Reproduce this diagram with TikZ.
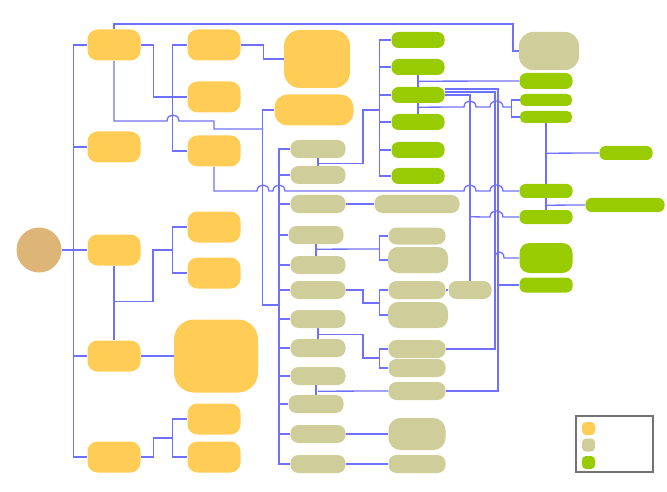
\documentclass[tikz,border=0pt]{standalone}
\usetikzlibrary{backgrounds}
\definecolor{giallo}{HTML}{FFCC55}
\definecolor{oliva}{HTML}{CFCE9B}
\definecolor{verde}{HTML}{99CC00}
\definecolor{radice}{HTML}{DDB577}
\definecolor{linea}{HTML}{7070FF}
\begin{document}
\begin{tikzpicture}[
    x=1pt, y=-1pt,
    every node/.style={inner sep=0pt, draw=none},
    gial/.style={fill=giallo, minimum width=53pt, minimum height=31pt, rounded corners=10pt},
    oliv/.style={fill=oliva, minimum width=55pt, minimum height=18pt, rounded corners=8pt},
    verd/.style={fill=verde, minimum width=53pt, minimum height=16pt, rounded corners=7pt},
    link/.style={draw=linea, line width=1.3pt}
]
\useasboundingbox (0,0) rectangle (667,492);
\coordinate (rail) at (279,0);

% Radice
\node[circle, fill=radice, minimum size=45pt] (rad) at (39,250) {};

% Primo livello
\node[gial] (a1) at (114,45) {};
\node[gial] (a2) at (114,147) {};
\node[gial] (a3) at (114,250) {};
\node[gial] (a4) at (114,356) {};
\node[gial] (a5) at (114,457) {};

% Secondo livello
\node[gial] (b1) at (214,45) {};
\node[gial] (b2) at (214,97) {};
\node[gial] (b3) at (214,151) {};
\node[gial] (b4) at (214,227) {};
\node[gial] (b5) at (214,273) {};
\node[gial, minimum width=84pt, minimum height=73pt, rounded corners=20pt] (b6) at (216,356) {};
\node[gial] (b7) at (214,419) {};
\node[gial] (b8) at (214,457) {};
\node[gial, minimum width=66pt, minimum height=58pt, rounded corners=16pt] (c1) at (317,59) {};
\node[gial, minimum width=79pt, rounded corners=13pt] (c2) at (314,110) {};

% Colonna oliva
\node[oliv] (d1) at (318,149) {};
\node[oliv] (d2) at (318,175) {};
\node[oliv] (d3) at (318,204) {};
\node[oliv] (d4) at (316,235) {};
\node[oliv] (d5) at (318,265) {};
\node[oliv] (d6) at (318,290) {};
\node[oliv] (d7) at (318,319) {};
\node[oliv] (d8) at (318,348) {};
\node[oliv] (d9) at (318,376) {};
\node[oliv] (d10) at (316,404) {};
\node[oliv] (d11) at (318,434) {};
\node[oliv] (d12) at (318,464) {};

% Colonna verde
\node[verd] (e1) at (418,40) {};
\node[verd] (e2) at (418,67) {};
\node[verd] (e3) at (418,95) {};
\node[verd] (e4) at (418,122) {};
\node[verd] (e5) at (418,150) {};
\node[verd] (e6) at (418,176) {};

\node[oliv, minimum width=85pt] (i) at (417,204) {};
\node[oliv, minimum width=57pt, minimum height=17pt] (j1) at (417,236) {};
\node[oliv, minimum width=60pt, minimum height=26pt, rounded corners=10pt] (j2) at (418,260) {};
\node[oliv, minimum width=57pt] (j3) at (417,290) {};
\node[oliv, minimum width=60pt, minimum height=26pt, rounded corners=10pt] (j4) at (418,315) {};
\node[oliv, minimum width=57pt] (j5) at (417,349) {};
\node[oliv, minimum width=57pt] (j6) at (417,368) {};
\node[oliv, minimum width=57pt] (j7) at (417,391) {};
\node[oliv, minimum width=57pt, minimum height=32pt, rounded corners=12pt] (j8) at (417,434) {};
\node[oliv, minimum width=57pt] (j9) at (417,464) {};
\node[oliv, minimum width=43pt] (g) at (470,290) {};

% Destra
\node[oliv, minimum width=60pt, minimum height=38pt, rounded corners=14pt] (f1) at (549,51) {};
\node[verd] (f2) at (546,81) {};
\node[verd, minimum width=52pt, minimum height=12pt, rounded corners=5pt] (f3) at (546,100) {};
\node[verd, minimum width=52pt, minimum height=12pt, rounded corners=5pt] (f4) at (546,117) {};
\node[verd, minimum height=14pt, rounded corners=6pt] (f5) at (626,153) {};
\node[verd, minimum height=14pt, rounded corners=6pt] (f6) at (546,191) {};
\node[verd, minimum width=79pt, minimum height=14pt, rounded corners=6pt] (f7) at (625,205) {};
\node[verd, minimum height=14pt, rounded corners=6pt] (f8) at (546,217) {};
\node[verd, minimum height=30pt, rounded corners=10pt] (f9) at (546,258) {};
\node[verd, minimum height=15pt, rounded corners=6pt] (f10) at (546,285) {};

% Legenda
\node[draw=black!55, line width=1.3pt, fill=white, minimum width=77pt, minimum height=56pt] (leg) at (614.5,444) {};
\node[fill=giallo, minimum size=13pt, rounded corners=4pt] (lg1) at (588.5,428.5) {};
\node[fill=oliva, minimum size=13pt, rounded corners=4pt] (lg2) at (588.5,445) {};
\node[fill=verde, minimum size=13pt, rounded corners=4pt] (lg3) at (588.5,462.5) {};

% Collegamenti
\begin{pgfonlayer}{background}
\begin{scope}[every path/.style=link]
\draw (rad.east) -- (a3.west);
\draw (a1.west) -- ++(-13.5,0) |- (a5.west);
\draw (a2.west) -- ++(-13.5,0);
\draw (a4.west) -- ++(-13.5,0);

\draw (a1.east) -- ++(12.5,0) |- (b2.west);
\draw (b1.west) -- ++(-15,0) |- (b3.west);
\draw (b1.east) -- ++(22.5,0) |- (c1.west);
\draw (a1.north) |- (513,24) |- (f1.west);
\draw (a1.south) |- (167,121) .. controls +(0,-8) and +(0,-8) .. (179,121) -| (214,129) -- (263,129);
\draw (c2.west) -- ++(-11.5,0) |- (279,305);
\draw (b3.south) |- (257,191) .. controls +(0,-8) and +(0,-8) .. (269,191)
    -- (273,191) .. controls +(0,-8) and +(0,-8) .. (285,191)
    -- (464,191) .. controls +(0,-8) and +(0,-8) .. (476,191)
    -- (490,191) .. controls +(0,-8) and +(0,-8) .. (503,191) -- (f6.west);

\draw (a3.south) -- (a4.north);
\draw (a3.south) ++(0,36) -| (153,250) -- (173,250);
\draw (b4.west) -- ++(-15,0) |- (b5.west);
\draw (a4.east) -- (b6.west);
\draw (a5.east) -- ++(12.5,0) |- (173,438);
\draw (b7.west) -- ++(-15,0) |- (b8.west);

\draw (d1.west) -- (d1.west -| rail) -- (d12.west -| rail) -- (d12.west);
\foreach \n in {2,...,11} \draw (d\n.west) -- (d\n.west -| rail);

\draw (d1.south) -- (d2.north);
\draw (d1.south) ++(0,5) -| (363,110) -- (380,110);
\draw (e1.west) -- ++(-11.5,0) |- (e6.west);
\foreach \n in {2,...,5} \draw (e\n.west) -- ++(-11.5,0);

\draw (e2.south) -- (e4.north);
\draw (e2.south) ++(0,6) -- (f2.west);
\draw (e3.south) ++(0,4) -- (464,107) .. controls +(0,-8) and +(0,-8) .. (476,107)
    -- (490,107) .. controls +(0,-8) and +(0,-8) .. (503,107) -- (512,107);
\draw (f3.west) -- ++(-8,0) |- (f4.west);

\draw (e3.east) ++(0,-6) -| (498,391) -- (j7.east);
\draw (e3.east) ++(0,-3) -| (495,349) -- (j5.east);
\draw (e3.east) -| (g.north);
\draw (g.north) ++(0,-64) -- (490,217) .. controls +(0,-8) and +(0,-8) .. (503,217) -- (f8.west);
\draw (f9.west) -- (504,258) .. controls +(0,-8) and +(0,-8) .. (495,258);
\draw (f10.west) -- (498,285);

\draw (d3.east) -- (i.west);
\draw (d4.south) -- (d4.south |- d5.north);
\draw (d4.south) ++(0,5) -- (379.5,249);
\draw (j1.west) -- ++(-9,0) |- (j2.west);
\draw (d6.east) -| (363,303) -- (379.5,303);
\draw (j3.west) -- ++(-9,0) |- (j4.west);
\draw (j3.east) -- (g.west);
\draw (d7.south) -- (d8.north);
\draw (d7.south) ++(0,6) -| (363,358) -- (379.5,358);
\draw (j5.west) -- ++(-9,0) |- (j6.west);
\draw (d10.north) -- (d10.north |- d9.south);
\draw (d9.south) ++(0,6) -- (j7.west);
\draw (d11.east) -- (j8.west);
\draw (d12.east) -- (j9.west);

\draw (f4.south) -- (f8.north);
\draw (f4.south) ++(0,30) -- (f5.west);
\draw (f4.south) ++(0,82) -- (f7.west);
\end{scope}
\end{pgfonlayer}
\end{tikzpicture}
\end{document}
